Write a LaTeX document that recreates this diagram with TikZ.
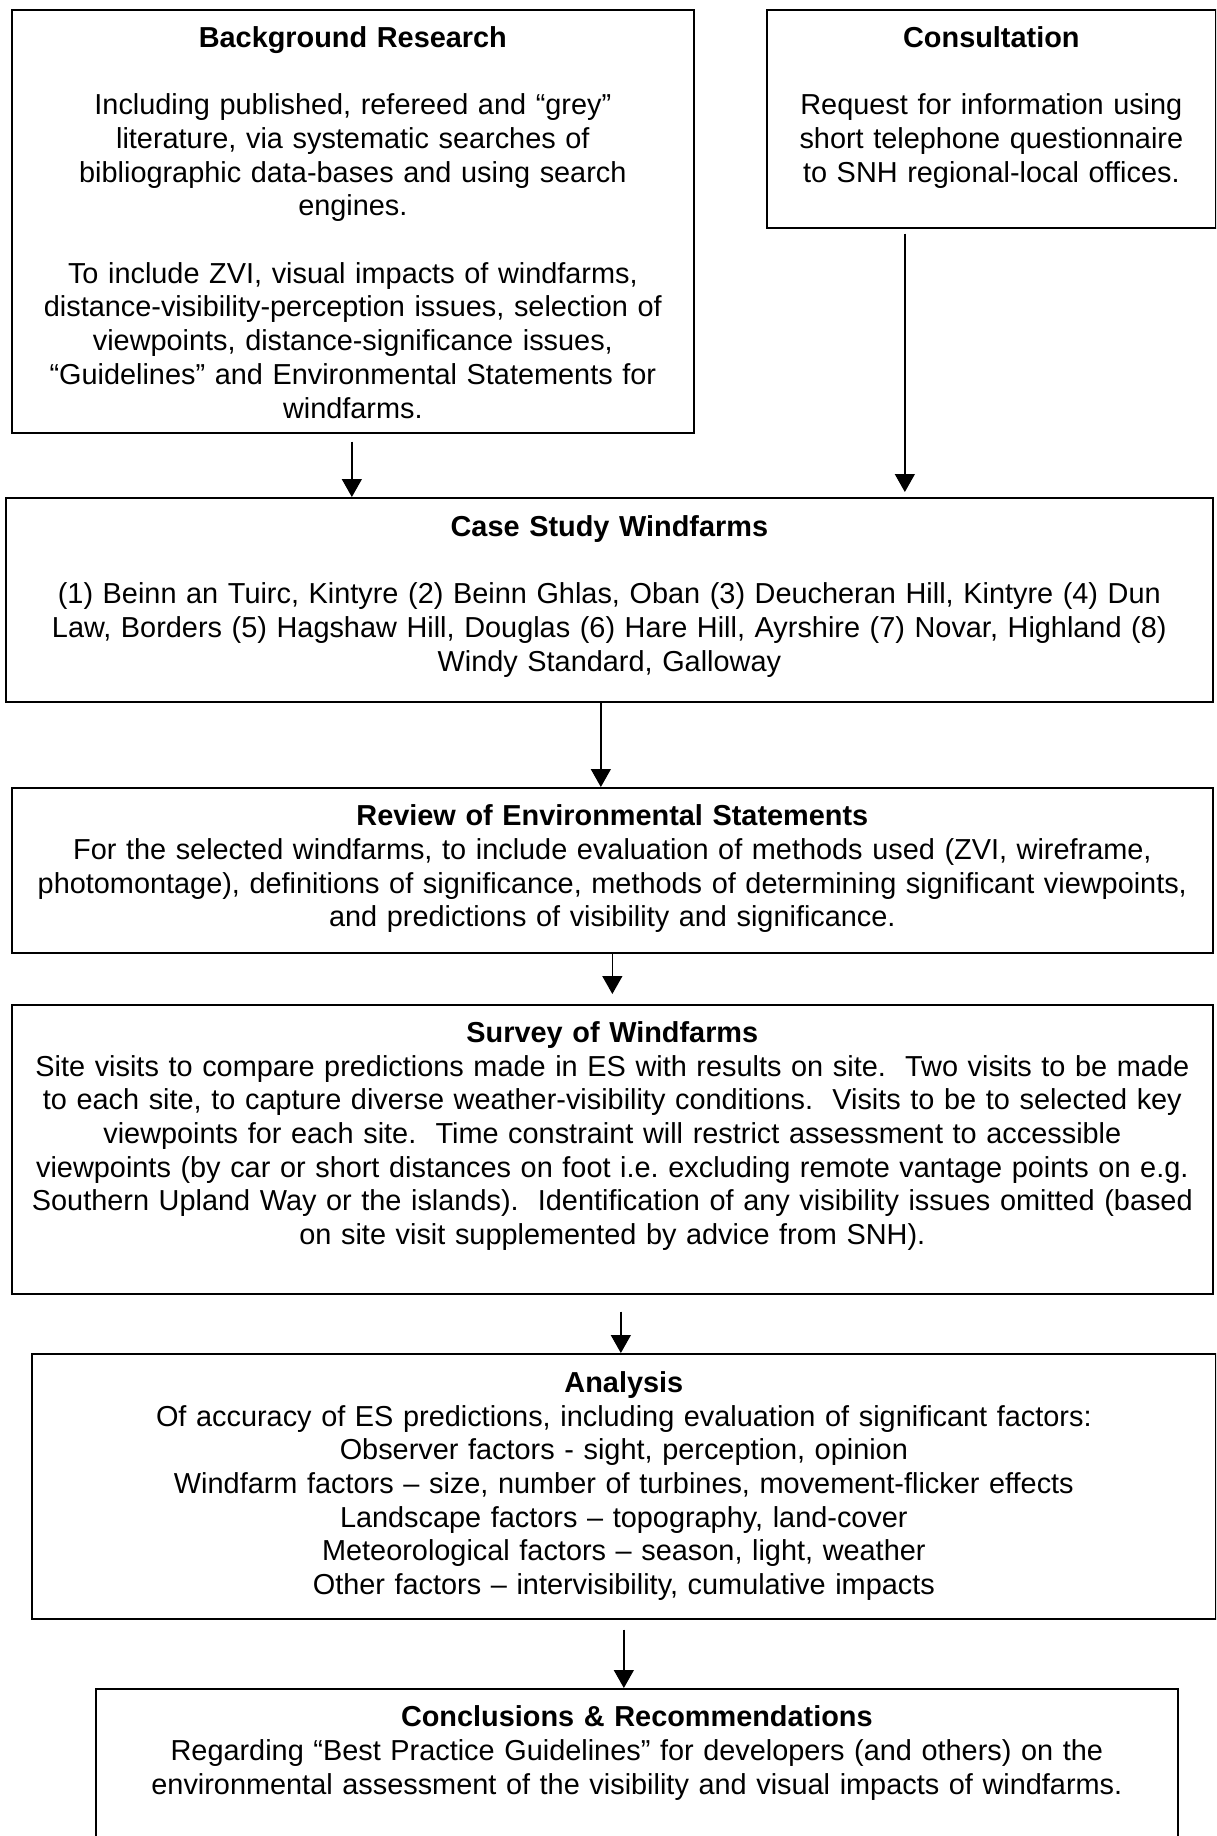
\documentclass[tikz,border=0pt]{standalone}
\usepackage{fontspec}
\setmainfont{Liberation Sans}
\usetikzlibrary{arrows.meta,calc}
\newdimen\pxu
\pxu=0.4pt
\frenchspacing

\begin{document}
\begin{tikzpicture}[x=0.4pt,y=-0.4pt,
  box/.style={draw,line width=0.68pt,anchor=north west,inner sep=0pt,align=center,
    font=\fontsize{11.55}{13.48}\selectfont},
  arr/.style={line width=0.52pt,-{Triangle[length=7.2pt,width=8pt]}}]
\useasboundingbox (0,0) rectangle (1216,1836);
\clip (0,0) rectangle (1216,1836);
\node[box,text width=682\pxu,text height=37.5\pxu,text depth=385.5\pxu] (bg) at (11,9) {\textbf{Background Research}\\[13.48pt]
Including published, refereed and “grey”\\
literature, via systematic searches of\\
bibliographic data-bases and using search\\
engines.\\[13.48pt]
To include ZVI, visual impacts of windfarms,\\
distance-visibility-perception issues, selection of\\
viewpoints, distance-significance issues,\\
“Guidelines” and Environmental Statements for\\
windfarms.};
\node[box,text width=449\pxu,text height=37.5\pxu,text depth=180.5\pxu] (cons) at (766,9) {\textbf{Consultation}\\[13.48pt]
Request for information using\\
short telephone questionnaire\\
to SNH regional-local offices.};
\node[box,text width=1207\pxu,text height=38.5\pxu,text depth=165.5\pxu] (case) at (5,497) {\textbf{Case Study Windfarms}\\[13.48pt]
(1) Beinn an Tuirc, Kintyre (2) Beinn Ghlas, Oban (3) Deucheran Hill, Kintyre (4) Dun\\
Law, Borders (5) Hagshaw Hill, Douglas (6) Hare Hill, Ayrshire (7) Novar, Highland (8)\\
Windy Standard, Galloway};
\node[box,text width=1201\pxu,text height=38\pxu,text depth=127\pxu] (review) at (11,787) {\textbf{Review of Environmental Statements}\\
For the selected windfarms, to include evaluation of methods used (ZVI, wireframe,\\
photomontage), definitions of significance, methods of determining significant viewpoints,\\
and predictions of visibility and significance.};
\node[box,text width=1201\pxu,text height=37.5\pxu,text depth=251.5\pxu] (survey) at (11,1004) {\textbf{Survey of Windfarms}\\
Site visits to compare predictions made in ES with results on site.\ \ Two visits to be made\\
to each site, to capture diverse weather-visibility conditions.\ \ Visits to be to selected key\\
viewpoints for each site.\ \ Time constraint will restrict assessment to accessible\\
viewpoints (by car or short distances on foot i.e. excluding remote vantage points on e.g.\\
Southern Upland Way or the islands).\ \ Identification of any visibility issues omitted (based\\
on site visit supplemented by advice from SNH).};
\node[box,text width=1184\pxu,text height=38.5\pxu,text depth=226.5\pxu] (analysis) at (31,1353) {\textbf{Analysis}\\
Of accuracy of ES predictions, including evaluation of significant factors:\\
Observer factors - sight, perception, opinion\\
Windfarm factors -- size, number of turbines, movement-flicker effects\\
Landscape factors -- topography, land-cover\\
Meteorological factors -- season, light, weather\\
Other factors -- intervisibility, cumulative impacts};
\node[box,text width=1082\pxu,text height=38\pxu,text depth=170\pxu] (concl) at (95,1688) {\textbf{Conclusions \& Recommendations}\\
Regarding “Best Practice Guidelines” for developers (and others) on the\\
environmental assessment of the visibility and visual impacts of windfarms.};
\draw[arr] ($(bg.south)+(-1,8)$) -- ($(bg.south |- case.north)+(-1,0)$);
\draw[arr] ($(cons.south)+(-86.5,5)$) -- ($(cons.south |- case.north)+(-86.5,-5)$);
\draw[arr] ($(case.south)+(-8.5,0)$) -- ($(case.south |- review.north)+(-8.5,0)$);
\draw[arr] (review.south) -- ($(review.south |- survey.north)+(0,-10)$);
\draw[arr] ($(survey.south)+(8.5,17)$) -- ($(survey.south |- analysis.north)+(8.5,0)$);
\draw[arr] ($(analysis.south)+(0,10)$) -- (analysis.south |- concl.north);
\end{tikzpicture}
\end{document}
